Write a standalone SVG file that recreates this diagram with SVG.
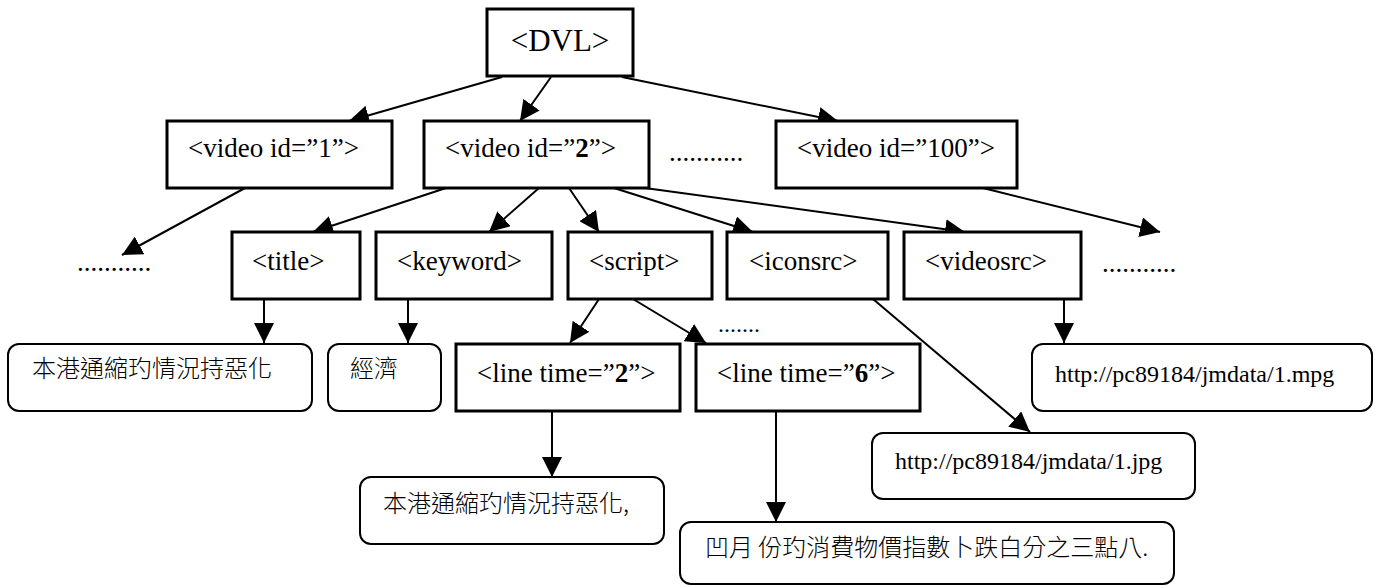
<svg xmlns="http://www.w3.org/2000/svg" width="1375" height="587" viewBox="0 0 1375 587">
  <defs>
    <marker id="arrow" markerUnits="userSpaceOnUse" markerWidth="20" markerHeight="20" refX="20" refY="10" orient="auto">
      <path d="M0,0 L20,10 L0,20 z" fill="#000"/>
    </marker>
    <style>
      .tag { fill: #fff; stroke: #000; stroke-width: 3; }
      .val { fill: #fff; stroke: #000; stroke-width: 2; }
      .t { font-size: 27px; fill: #000; }
      .big { font-size: 31px; }
      .url { font-size: 24px; fill: #000; }
      .zh { font-family: 'Noto Sans CJK TC', 'Noto Sans CJK SC', sans-serif; font-size: 24px; font-weight: 300; fill: #000; }
      .dots { font-size: 27px; fill: #000; }
      .edge { stroke: #000; stroke-width: 2; fill: none; marker-end: url(#arrow); }
    </style>
  </defs>
  <rect width="1375" height="587" fill="#fff"/>

  <!-- connectors -->
  <g id="connectors">
    <line class="edge" x1="502" y1="77" x2="349" y2="121"/>
    <line class="edge" x1="551" y1="77" x2="520" y2="121"/>
    <line class="edge" x1="622" y1="77" x2="838" y2="121"/>
    <line class="edge" x1="245" y1="188" x2="122" y2="255"/>
    <line class="edge" x1="446" y1="188" x2="313" y2="232"/>
    <line class="edge" x1="539" y1="188" x2="489" y2="232"/>
    <line class="edge" x1="569" y1="188" x2="599" y2="232"/>
    <line class="edge" x1="614" y1="188" x2="753" y2="232"/>
    <line class="edge" x1="645" y1="188" x2="965" y2="232"/>
    <line class="edge" x1="983" y1="188" x2="1160" y2="232"/>
    <line class="edge" x1="264" y1="299" x2="264" y2="343"/>
    <line class="edge" x1="408" y1="299" x2="408" y2="343"/>
    <line class="edge" x1="599" y1="299" x2="570" y2="343"/>
    <line class="edge" x1="633" y1="299" x2="706" y2="343"/>
    <line class="edge" x1="873" y1="299" x2="1030" y2="432"/>
    <line class="edge" x1="1064" y1="299" x2="1064" y2="343"/>
    <line class="edge" x1="552" y1="411" x2="552" y2="477"/>
    <line class="edge" x1="776" y1="411" x2="776" y2="522"/>
  </g>

  <g font-family="'Liberation Serif', 'DejaVu Serif', 'Times New Roman', serif">
    <!-- root -->
    <g id="dvl">
      <rect class="tag" x="487" y="9" width="146" height="67"/>
      <text class="t big" x="560" y="51" text-anchor="middle">&lt;DVL&gt;</text>
    </g>

    <!-- video elements -->
    <g id="video1">
      <rect class="tag" x="167" y="121" width="225" height="67"/>
      <text class="t" x="188" y="157">&lt;video id=”1”&gt;</text>
    </g>
    <g id="video2">
      <rect class="tag" x="424" y="121" width="225" height="67"/>
      <text class="t" x="445" y="157">&lt;video id=”<tspan font-weight="bold">2</tspan>”&gt;</text>
    </g>
    <g id="video-more">
      <text class="dots" x="669" y="161">...........</text>
    </g>
    <g id="video100">
      <rect class="tag" x="776" y="121" width="241" height="67"/>
      <text class="t" x="797" y="157">&lt;video id=”100”&gt;</text>
    </g>

    <!-- elided children of the other videos -->
    <g id="more-left">
      <text class="dots" x="77" y="271">...........</text>
    </g>
    <g id="more-right">
      <text class="dots" x="1102" y="272">...........</text>
    </g>

    <!-- children of video 2 -->
    <g id="title">
      <rect class="tag" x="232" y="232" width="128" height="67"/>
      <text class="t" x="252" y="270">&lt;title&gt;</text>
    </g>
    <g id="keyword">
      <rect class="tag" x="376" y="232" width="176" height="67"/>
      <text class="t" x="397" y="270">&lt;keyword&gt;</text>
    </g>
    <g id="script">
      <rect class="tag" x="568" y="232" width="144" height="67"/>
      <text class="t" x="589" y="270">&lt;script&gt;</text>
    </g>
    <g id="iconsrc">
      <rect class="tag" x="727" y="232" width="161" height="67"/>
      <text class="t" x="749" y="270">&lt;iconsrc&gt;</text>
    </g>
    <g id="videosrc">
      <rect class="tag" x="904" y="232" width="177" height="67"/>
      <text class="t" x="925" y="270">&lt;videosrc&gt;</text>
    </g>

    <!-- element values -->
    <g id="title-value">
      <rect class="val" x="8" y="344" width="304" height="67" rx="11"/>
      <text class="zh" x="32" y="377">本港通縮玓情況持惡化</text>
    </g>
    <g id="keyword-value">
      <rect class="val" x="328" y="344" width="113" height="67" rx="11"/>
      <text class="zh" x="350" y="377">經濟</text>
    </g>

    <!-- script lines -->
    <g id="line2">
      <rect class="tag" x="456" y="344" width="224" height="67"/>
      <text class="t" x="477" y="382">&lt;line time=”<tspan font-weight="bold">2</tspan>”&gt;</text>
    </g>
    <g id="line-more">
      <text class="url" x="718" y="332">.......</text>
    </g>
    <g id="line6">
      <rect class="tag" x="696" y="344" width="224" height="67"/>
      <text class="t" x="717" y="382">&lt;line time=”<tspan font-weight="bold">6</tspan>”&gt;</text>
    </g>
    <g id="line2-value">
      <rect class="val" x="360" y="477" width="304" height="67" rx="11"/>
      <text class="zh" x="383" y="512">本港通縮玓情況持惡化,</text>
    </g>
    <g id="line6-value">
      <rect class="val" x="680" y="522" width="494" height="62" rx="11"/>
      <text class="zh" x="705" y="556" font-size="23">凹月 份玓消費物價指數卜跌白分之三點八.</text>
    </g>

    <!-- media sources -->
    <g id="icon-url">
      <rect class="val" x="872" y="433" width="323" height="66" rx="11"/>
      <text class="url" x="895" y="469">http://pc89184/jmdata/1.jpg</text>
    </g>
    <g id="video-url">
      <rect class="val" x="1032" y="344" width="340" height="67" rx="11"/>
      <text class="url" x="1055" y="382">http://pc89184/jmdata/1.mpg</text>
    </g>
  </g>
</svg>
